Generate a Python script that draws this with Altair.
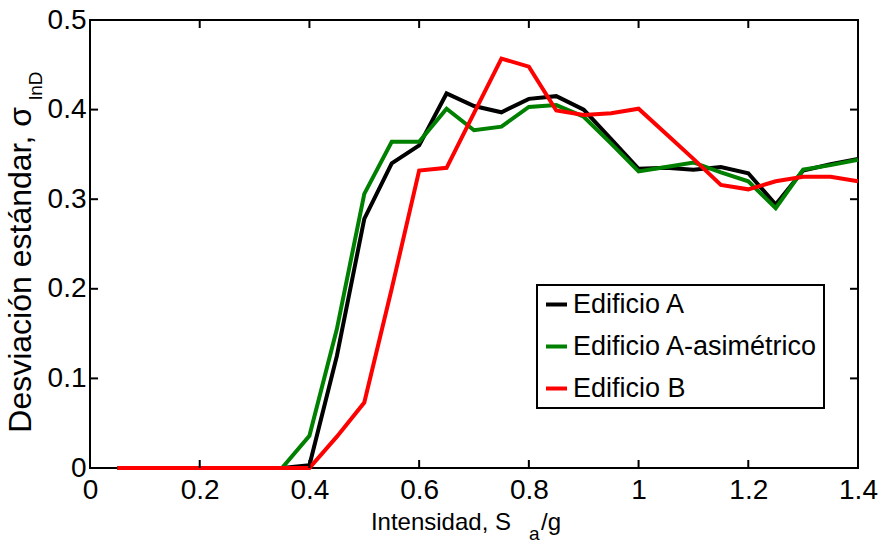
import altair as alt
import pandas as pd

# ---------------- data ----------------
x_vals = [0.05, 0.10, 0.15, 0.20, 0.25, 0.30, 0.35, 0.40, 0.45, 0.50,
          0.55, 0.60, 0.65, 0.70, 0.75, 0.80, 0.85, 0.90, 0.95, 1.00,
          1.05, 1.10, 1.15, 1.20, 1.25, 1.30, 1.35, 1.40]

edificio_a = [0, 0, 0, 0, 0, 0, 0, 0.003, 0.125, 0.278,
              0.340, 0.360, 0.418, 0.404, 0.397, 0.412, 0.415, 0.400, 0.367, 0.334,
              0.335, 0.333, 0.336, 0.329, 0.294, 0.332, 0.339, 0.345]

edificio_a_asim = [0, 0, 0, 0, 0, 0, 0, 0.036, 0.155, 0.306,
                   0.364, 0.364, 0.401, 0.377, 0.381, 0.403, 0.405, 0.392, 0.362, 0.331,
                   0.336, 0.341, 0.330, 0.320, 0.290, 0.333, 0.338, 0.344]

edificio_b = [0, 0, 0, 0, 0, 0, 0, 0, 0.035, 0.073,
              0.200, 0.332, 0.335, 0.396, 0.457, 0.448, 0.399, 0.394, 0.396, 0.401,
              0.373, 0.345, 0.316, 0.311, 0.320, 0.325, 0.325, 0.320]

series_names = ["Edificio A", "Edificio A-asimétrico", "Edificio B"]
series_colors = ["#000000", "#008000", "#ff0000"]

x_ticks = [0, 0.2, 0.4, 0.6, 0.8, 1.0, 1.2, 1.4]
y_ticks = [0, 0.1, 0.2, 0.3, 0.4, 0.5]

x_title_main = ["Intensidad, S"]
x_title_sub = ["a"]
x_title_tail = ["/g"]
y_title_main = ["Desviación estándar, σ"]
y_title_sub = ["lnD"]

# ---------------- build table ----------------
rows = []
for name, ys in zip(series_names, [edificio_a, edificio_a_asim, edificio_b]):
    for i, (xv, yv) in enumerate(zip(x_vals, ys)):
        rows.append({"serie": name, "x": xv, "y": yv, "orden": i})
df = pd.DataFrame(rows)

W, H = 768, 448
FONT = "Liberation Sans, Arial, sans-serif"

xscale = alt.Scale(domain=[0, 1.4], nice=False, zero=False)
yscale = alt.Scale(domain=[0, 0.5], nice=False)

x_axis = alt.Axis(values=x_ticks, format="~g", title=None, domain=False,
                  ticks=False, grid=False, labelFont=FONT, labelFontSize=28,
                  labelPadding=8, labelColor="black", labelFlush=False,
                  labelOverlap=False)
y_axis = alt.Axis(values=y_ticks, format="~g", title=None, domain=False,
                  ticks=False, grid=False, labelFont=FONT, labelFontSize=28,
                  labelPadding=4, labelColor="black", labelFlush=False,
                  labelOverlap=False)

lines = alt.Chart(df).mark_line(strokeWidth=4).encode(
    x=alt.X("x:Q", scale=xscale, axis=x_axis),
    y=alt.Y("y:Q", scale=yscale, axis=y_axis),
    color=alt.Color("serie:N",
                    scale=alt.Scale(domain=series_names, range=series_colors),
                    legend=alt.Legend(title=None, orient="none", legendX=447, legendY=265,
                                      direction="vertical", strokeColor="black",
                                      fillColor="white", padding=6, symbolType="stroke",
                                      symbolSize=441, symbolStrokeWidth=4,
                                      labelFont=FONT, labelFontSize=27,
                                      labelColor="black", rowPadding=14, labelOffset=3,
                                      labelLimit=500)),
    order="orden:Q",
)

xt = pd.DataFrame({"x": x_ticks})
yt = pd.DataFrame({"y": y_ticks})

tick_b = alt.Chart(xt).mark_rule(color="black", strokeWidth=2).encode(
    x=alt.X("x:Q", scale=xscale, axis=x_axis), y=alt.value(H), y2=alt.value(H - 8))
tick_t = alt.Chart(xt).mark_rule(color="black", strokeWidth=2).encode(
    x=alt.X("x:Q", scale=xscale, axis=x_axis), y=alt.value(0), y2=alt.value(8))
tick_l = alt.Chart(yt).mark_rule(color="black", strokeWidth=2).encode(
    y=alt.Y("y:Q", scale=yscale, axis=y_axis), x=alt.value(0), x2=alt.value(8))
tick_r = alt.Chart(yt).mark_rule(color="black", strokeWidth=2).encode(
    y=alt.Y("y:Q", scale=yscale, axis=y_axis), x=alt.value(W), x2=alt.value(W - 8))

xt_main = alt.Chart(pd.DataFrame({"t": x_title_main})).mark_text(
    font=FONT, fontSize=24, align="right", baseline="alphabetic", color="black"
).encode(text="t:N", x=alt.value(421), y=alt.value(510))
xt_sub = alt.Chart(pd.DataFrame({"t": x_title_sub})).mark_text(
    font=FONT, fontSize=19, align="left", baseline="alphabetic", color="black"
).encode(text="t:N", x=alt.value(439), y=alt.value(520))
xt_tail = alt.Chart(pd.DataFrame({"t": x_title_tail})).mark_text(
    font=FONT, fontSize=24, align="left", baseline="alphabetic", color="black"
).encode(text="t:N", x=alt.value(451), y=alt.value(510))

yt_main = alt.Chart(pd.DataFrame({"t": y_title_main})).mark_text(
    font=FONT, fontSize=32, align="right", baseline="alphabetic", angle=270,
    color="black"
).encode(text="t:N", x=alt.value(-59), y=alt.value(87))
yt_sub = alt.Chart(pd.DataFrame({"t": y_title_sub})).mark_text(
    font=FONT, fontSize=19, align="left", baseline="alphabetic", angle=270,
    color="black"
).encode(text="t:N", x=alt.value(-48), y=alt.value(80))

chart = alt.layer(
    lines, tick_b, tick_t, tick_l, tick_r,
    xt_main, xt_sub, xt_tail, yt_main, yt_sub
).properties(
    width=W, height=H, autosize=alt.AutoSizeParams(type="none"),
    padding={"left": 90, "top": 20, "right": 24, "bottom": 78},
    background="white",
).configure_view(
    stroke="black", strokeWidth=2
).configure_legend(
    strokeWidth=2
)

chart.save("out.html", embed_options={"renderer": "svg", "actions": False})
